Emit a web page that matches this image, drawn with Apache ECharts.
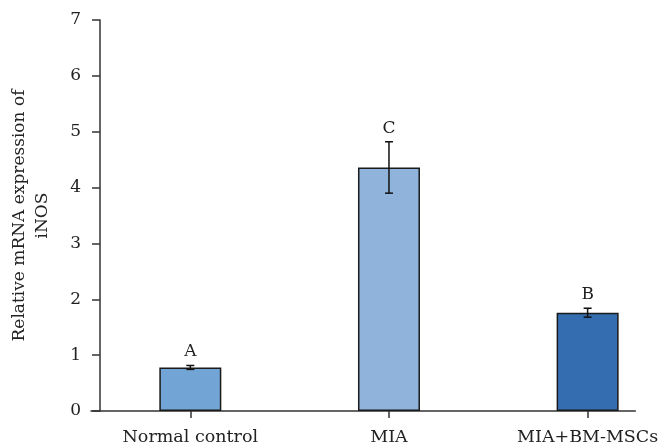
<!DOCTYPE html>
<html>
<head>
<meta charset="utf-8">
<script src="https://cdn.jsdelivr.net/npm/echarts@6/dist/echarts.min.js"></script>
<style>html,body{margin:0;padding:0;background:#fff}#c{width:661px;height:447px}</style>
</head>
<body>
<div id="c"></div>
<script>
const categories = ['Normal control', 'MIA', 'MIA+BM-MSCs'];
const means = [0.78, 4.36, 1.76];
const errors = [0.035, 0.46, 0.08];
const letters = ['A', 'C', 'B'];
const yTicks = [0, 1, 2, 3, 4, 5, 6, 7];

const barColors = ['#72a4d5', '#8fb3da', '#346eb1'];
const FONT = 'DejaVu Serif';
const positions = categories.map((c, i) => i);

const chart = echarts.init(document.getElementById('c'));
chart.setOption({
  animation: false,
  grid: { left: 89, right: 24, top: 20, bottom: 36 },
  xAxis: {
    type: 'value', min: -0.5, max: 2.24,
    splitLine: { show: false },
    axisLine: { show: true, onZero: false, lineStyle: { color: '#333', width: 1.5 } },
    axisTick: { show: true, customValues: positions, length: 7, lineStyle: { color: '#333', width: 1.5 } },
    axisLabel: { customValues: positions, formatter: v => categories[Math.round(v)], margin: 17,
      fontFamily: FONT, fontSize: 17.5, color: '#222' }
  },
  yAxis: {
    type: 'value', min: yTicks[0], max: yTicks[yTicks.length - 1], interval: 1, offset: -9,
    splitLine: { show: false },
    axisLine: { show: true, onZero: false, lineStyle: { color: '#333', width: 1.5 } },
    axisTick: { show: true, length: 8, lineStyle: { color: '#333', width: 1.5 } },
    axisLabel: { margin: 19, fontFamily: FONT, fontSize: 17, color: '#222' },
    name: 'Relative mRNA expression of\niNOS',
    nameLocation: 'middle', nameRotate: 90, nameGap: 46,
    nameTextStyle: { fontFamily: FONT, fontSize: 17, color: '#222', lineHeight: 23, align: 'center' }
  },
  series: [
    {
      type: 'bar', barWidth: 62,
      data: means.map((m, i) => ({ value: [i, m], itemStyle: { color: barColors[i] } })),
      itemStyle: { borderColor: '#1a1a1a', borderWidth: 1.5 }
    },
    {
      type: 'custom',
      data: means.map((m, i) => [i, m - errors[i], m + errors[i]]),
      renderItem: function (params, api) {
        const x = api.value(0);
        const lo = api.coord([x, api.value(1)]);
        const hi = api.coord([x, api.value(2)]);
        const cap = 4;
        const st = { stroke: '#111', lineWidth: 1.5 };
        return {
          type: 'group',
          children: [
            { type: 'line', shape: { x1: lo[0], y1: lo[1], x2: hi[0], y2: hi[1] }, style: st },
            { type: 'line', shape: { x1: lo[0] - cap, y1: lo[1], x2: lo[0] + cap, y2: lo[1] }, style: st },
            { type: 'line', shape: { x1: hi[0] - cap, y1: hi[1], x2: hi[0] + cap, y2: hi[1] }, style: st },
            { type: 'text', x: hi[0], y: hi[1] - 5,
              style: { text: letters[params.dataIndex], fontFamily: FONT, fontSize: 17, fill: '#222',
                align: 'center', verticalAlign: 'bottom' } }
          ]
        };
      },
      z: 10
    }
  ]
});
</script>
</body>
</html>
